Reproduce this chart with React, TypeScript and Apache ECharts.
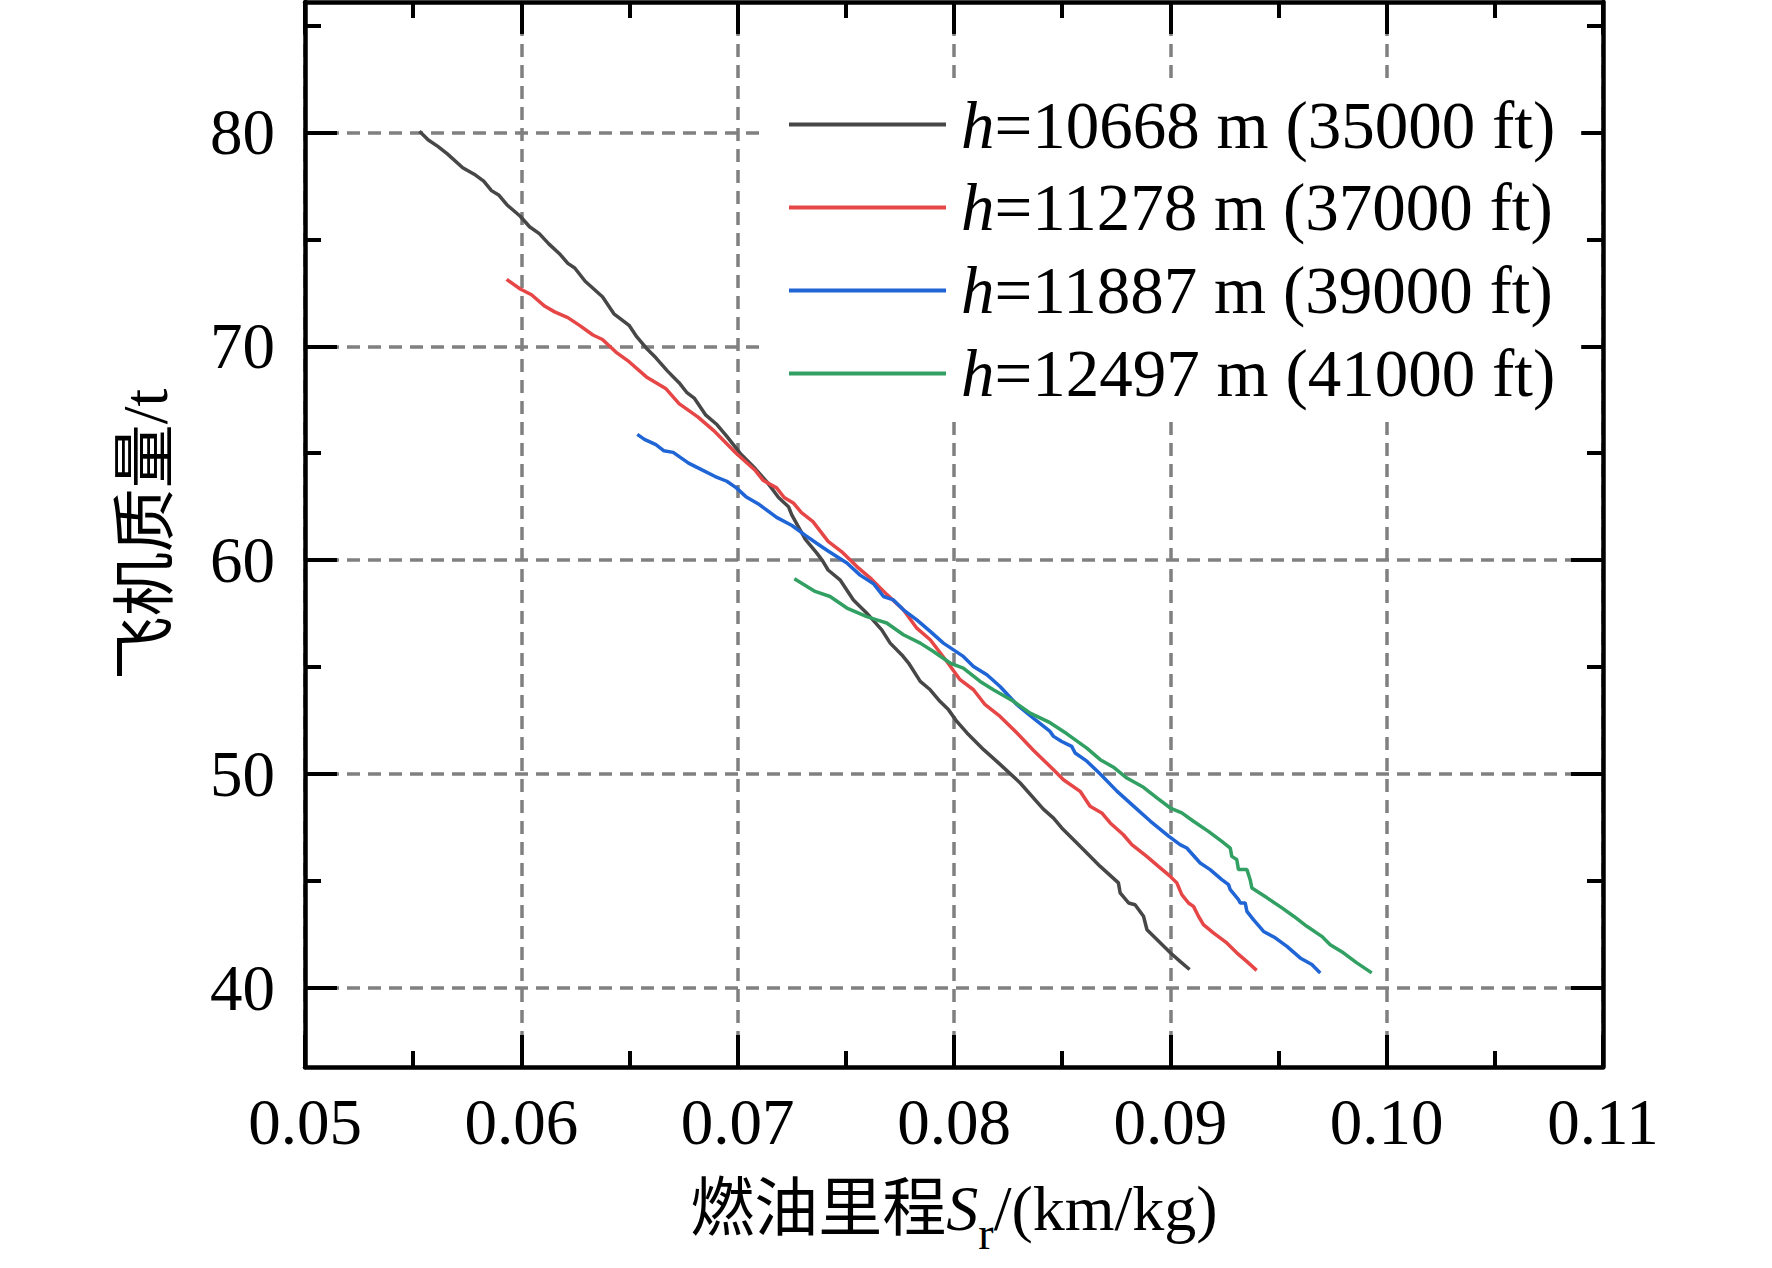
import { useEffect, useRef } from 'react'
import * as echarts from 'echarts'

// 燃油里程 (km/kg) and 飞机质量 (t)
const seriesNames = ['h=10668 m (35000 ft)', 'h=11278 m (37000 ft)', 'h=11887 m (39000 ft)', 'h=12497 m (41000 ft)']
const seriesColors = ['#474747', '#e64646', '#1f65d6', '#31a062']

const range35 = [0.05529, 0.0557, 0.05614, 0.05658, 0.05729, 0.05782, 0.05826, 0.05862, 0.05897, 0.05933, 0.05995, 0.06038, 0.06083, 0.06127, 0.0618, 0.06215, 0.06247, 0.06295, 0.06375, 0.06428, 0.06498, 0.06534, 0.06578, 0.06622, 0.06676, 0.06729, 0.06764, 0.06799, 0.06853, 0.06905, 0.0695, 0.07012, 0.07074, 0.07136, 0.07189, 0.07235, 0.0725, 0.07313, 0.07365, 0.07392, 0.07418, 0.07473, 0.07535, 0.07597, 0.07666, 0.07705, 0.07759, 0.0779, 0.07844, 0.0789, 0.07936, 0.07975, 0.08013, 0.0806, 0.08137, 0.08213, 0.08306, 0.08413, 0.0846, 0.08498, 0.08583, 0.08676, 0.0876, 0.08768, 0.08807, 0.08837, 0.08876, 0.08892, 0.08938, 0.09, 0.09045, 0.09089]
const mass35 = [80.06, 79.65, 79.35, 79.0, 78.35, 78.05, 77.72, 77.28, 77.06, 76.62, 76.08, 75.59, 75.27, 74.79, 74.29, 73.88, 73.66, 73.04, 72.32, 71.52, 70.98, 70.44, 69.91, 69.46, 68.84, 68.3, 67.85, 67.58, 66.78, 66.33, 65.79, 64.99, 64.36, 63.65, 62.93, 62.5, 62.12, 60.97, 60.34, 59.98, 59.54, 59.08, 58.14, 57.52, 56.74, 56.12, 55.57, 55.19, 54.33, 53.94, 53.39, 53.0, 52.46, 51.92, 51.14, 50.45, 49.58, 48.36, 47.94, 47.48, 46.62, 45.68, 44.91, 44.44, 43.97, 43.89, 43.35, 42.72, 42.26, 41.64, 41.24, 40.86]

const range37 = [0.05932, 0.05995, 0.06047, 0.06109, 0.06154, 0.06215, 0.06269, 0.06331, 0.06375, 0.06437, 0.06498, 0.06578, 0.06667, 0.06729, 0.06817, 0.06888, 0.06994, 0.07082, 0.07117, 0.0718, 0.07215, 0.07259, 0.07295, 0.07348, 0.07418, 0.0748, 0.07551, 0.0762, 0.07689, 0.07766, 0.07828, 0.0789, 0.07967, 0.08028, 0.0809, 0.08144, 0.08213, 0.08291, 0.08368, 0.0846, 0.08506, 0.08583, 0.08629, 0.08683, 0.08722, 0.08783, 0.08822, 0.08891, 0.08945, 0.09, 0.0903, 0.09053, 0.09084, 0.09107, 0.0913, 0.09153, 0.09199, 0.09261, 0.09307, 0.09353, 0.09399]
const mass37 = [73.13, 72.68, 72.41, 71.87, 71.61, 71.34, 70.98, 70.53, 70.32, 69.73, 69.28, 68.57, 68.03, 67.32, 66.69, 66.07, 64.99, 64.19, 63.74, 63.38, 62.93, 62.66, 62.22, 61.8, 60.88, 60.4, 59.7, 59.1, 58.4, 57.68, 56.82, 56.28, 55.26, 54.41, 53.94, 53.24, 52.69, 51.92, 51.1, 50.2, 49.73, 49.19, 48.49, 48.18, 47.71, 47.16, 46.7, 46.15, 45.68, 45.21, 44.91, 44.36, 43.97, 43.81, 43.35, 42.96, 42.57, 42.1, 41.64, 41.24, 40.82]

const range39 = [0.06536, 0.06569, 0.06622, 0.06658, 0.06702, 0.06773, 0.06835, 0.06896, 0.0695, 0.06994, 0.07038, 0.071, 0.0718, 0.07251, 0.07313, 0.07365, 0.07418, 0.07505, 0.07566, 0.07628, 0.07674, 0.0772, 0.07766, 0.07828, 0.0789, 0.07951, 0.08043, 0.0809, 0.08152, 0.08213, 0.08291, 0.08368, 0.08444, 0.0846, 0.08498, 0.08544, 0.0856, 0.08614, 0.08676, 0.08753, 0.0883, 0.08907, 0.08992, 0.09045, 0.09076, 0.09138, 0.09184, 0.09238, 0.09269, 0.09277, 0.09315, 0.09323, 0.09346, 0.09354, 0.09384, 0.09431, 0.09485, 0.09539, 0.096, 0.09654, 0.09693]
const mass39 = [65.88, 65.65, 65.4, 65.12, 65.04, 64.54, 64.22, 63.91, 63.69, 63.38, 62.97, 62.6, 62.0, 61.62, 61.16, 60.79, 60.43, 59.87, 59.3, 58.9, 58.3, 58.14, 57.68, 57.21, 56.67, 56.12, 55.5, 55.03, 54.64, 54.09, 53.24, 52.6, 51.99, 51.76, 51.52, 51.29, 50.98, 50.6, 50.0, 49.2, 48.5, 47.8, 47.1, 46.7, 46.54, 45.84, 45.53, 45.06, 44.83, 44.59, 44.13, 43.97, 43.97, 43.58, 43.19, 42.64, 42.34, 41.94, 41.4, 41.09, 40.7]

const range41 = [0.07262, 0.07358, 0.07427, 0.07505, 0.07597, 0.07643, 0.07689, 0.07766, 0.07844, 0.07905, 0.07982, 0.08043, 0.08121, 0.08182, 0.08275, 0.08352, 0.08444, 0.08522, 0.08614, 0.08676, 0.08737, 0.08799, 0.08876, 0.08938, 0.09, 0.09053, 0.09107, 0.09176, 0.09238, 0.09277, 0.09284, 0.09307, 0.09315, 0.09354, 0.09369, 0.09377, 0.09447, 0.09516, 0.0957, 0.09631, 0.097, 0.09739, 0.098, 0.09862, 0.09931]
const mass41 = [59.13, 58.54, 58.3, 57.76, 57.36, 57.21, 57.06, 56.51, 56.12, 55.73, 55.19, 54.95, 54.33, 53.94, 53.4, 52.85, 52.4, 51.88, 51.21, 50.67, 50.32, 49.81, 49.38, 48.88, 48.41, 48.18, 47.79, 47.32, 46.85, 46.54, 46.15, 46.0, 45.53, 45.53, 45.06, 44.67, 44.21, 43.74, 43.35, 42.88, 42.41, 42.02, 41.64, 41.17, 40.7]

const massTicks = [40, 50, 60, 70, 80]
const massMinorTicks = [45, 55, 65, 75, 85]

const serif = "'Liberation Serif', 'Times New Roman', 'Noto Sans CJK SC', serif"
const black = '#000'

export default function App() {
  const chartRef = useRef<HTMLDivElement | null>(null)

  useEffect(() => {
    if (!chartRef.current) return
    const chart = echarts.init(chartRef.current, undefined, { renderer: 'svg' })

    const ranges = [range35, range37, range39, range41]
    const masses = [mass35, mass37, mass39, mass41]

    const yBase = {
      type: 'value',
      min: 36.3,
      max: 86.1,
      axisLine: { onZero: false, lineStyle: { color: black, width: 4.5 } },
      axisLabel: { show: false },
      splitLine: { show: false }
    }
    const majorTick = { show: true, inside: true, length: 32, customValues: massTicks, lineStyle: { color: black, width: 4 } }
    const minorTick = { show: true, inside: true, length: 16, customValues: massMinorTicks, lineStyle: { color: black, width: 4 } }
    const gridLine = { show: true, lineStyle: { color: '#808080', width: 3.5, type: [13, 8] } }

    chart.setOption({
      animation: false,
      backgroundColor: '#fff',
      grid: { left: 305, right: 169, top: 2, bottom: 201 },
      legend: {
        orient: 'vertical',
        left: 763,
        top: 84,
        padding: [7, 26, 7, 26],
        itemGap: 16,
        itemWidth: 157,
        itemHeight: 4,
        icon: 'rect',
        backgroundColor: '#fff',
        data: seriesNames,
        formatter: (name: string) => `{i|h}{n|${name.slice(1)}}`,
        textStyle: {
          color: black,
          fontFamily: serif,
          fontSize: 67,
          rich: {
            i: { fontFamily: serif, fontSize: 67, fontStyle: 'italic', lineHeight: 64, padding: [0, 0, 0, 10], color: black },
            n: { fontFamily: serif, fontSize: 67, lineHeight: 64, color: black }
          }
        }
      },
      xAxis: [
        {
          type: 'value',
          position: 'bottom',
          min: 0.05,
          max: 0.11,
          interval: 0.01,
          name: '{a|燃油里程}{s|S}{sub|r}{a|/(km/kg)}',
          nameLocation: 'middle',
          nameGap: 93,
          nameTextStyle: {
            rich: {
              a: { fontFamily: serif, fontSize: 64, lineHeight: 64, color: black },
              s: { fontFamily: serif, fontSize: 64, lineHeight: 64, fontStyle: 'italic', color: black },
              sub: { fontFamily: serif, fontSize: 46, lineHeight: 96, verticalAlign: 'bottom', color: black }
            }
          },
          axisLine: { onZero: false, lineStyle: { color: black, width: 4.5 } },
          axisTick: { inside: true, length: 32, lineStyle: { color: black, width: 4 } },
          minorTick: { show: true, splitNumber: 2, length: 16, lineStyle: { color: black, width: 4 } },
          axisLabel: {
            color: black,
            fontFamily: serif,
            fontSize: 65,
            margin: 22,
            formatter: (v: number) => v.toFixed(2)
          },
          splitLine: gridLine
        },
        {
          type: 'value',
          position: 'top',
          min: 0.05,
          max: 0.11,
          interval: 0.01,
          axisLine: { onZero: false, lineStyle: { color: black, width: 4.5 } },
          axisTick: { inside: true, length: 32, lineStyle: { color: black, width: 4 } },
          minorTick: { show: true, splitNumber: 2, length: 16, lineStyle: { color: black, width: 4 } },
          axisLabel: { show: false },
          splitLine: { show: false }
        }
      ],
      yAxis: [
        {
          ...yBase,
          position: 'left',
          name: '飞机质量/t',
          nameLocation: 'middle',
          nameRotate: 90,
          nameGap: 128,
          nameTextStyle: { color: black, fontFamily: serif, fontSize: 64 },
          axisTick: majorTick,
          axisLabel: { show: true, customValues: massTicks, color: black, fontFamily: serif, fontSize: 65, margin: 30 },
          splitLine: gridLine
        },
        { ...yBase, position: 'left', axisLine: { show: false }, axisTick: minorTick },
        { ...yBase, position: 'right', axisTick: majorTick },
        { ...yBase, position: 'right', axisLine: { show: false }, axisTick: minorTick }
      ],
      series: seriesNames.map((name, i) => ({
        name,
        type: 'line',
        xAxisIndex: 0,
        yAxisIndex: 0,
        symbol: 'none',
        showSymbol: false,
        color: seriesColors[i],
        lineStyle: { color: seriesColors[i], width: 3.5 },
        data: ranges[i].map((x, j) => [x, masses[i][j]])
      }))
    })

    return () => chart.dispose()
  }, [])

  return (
    <div
      ref={chartRef}
      style={{ position: 'fixed', left: 0, top: 0, width: 1772, height: 1268, background: '#fff' }}
    />
  )
}
